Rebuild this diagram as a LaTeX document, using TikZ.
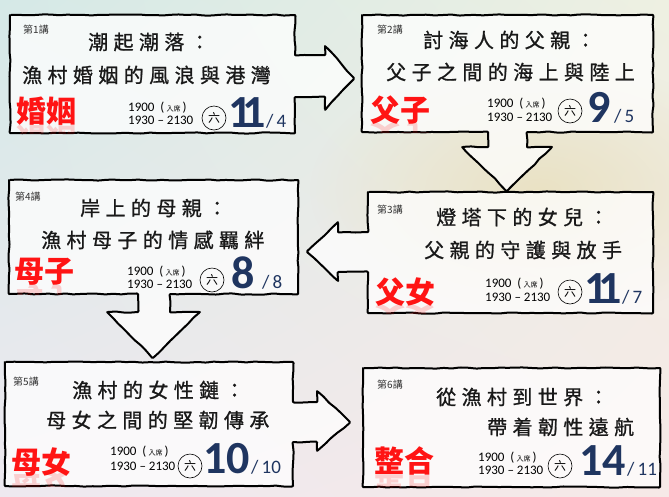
\documentclass[tikz,border=0pt]{standalone}
\usepackage{fontspec}
\usepackage{graphicx}
\usetikzlibrary{decorations.pathmorphing,fadings,shadings}
\newfontfamily\cjk{Noto Sans CJK TC}
\newfontfamily\cjkt[LetterSpace=27,FakeBold=1]{Noto Sans CJK TC}
\newfontfamily\numf{Carlito}
\definecolor{navy}{HTML}{1F3560}
\definecolor{tagred}{HTML}{FF1414}
\definecolor{bgul}{HTML}{D5E9E7}
\definecolor{bgur}{HTML}{EEF0E2}
\definecolor{bgll}{HTML}{EEE9F0}
\definecolor{bglr}{HTML}{F6E9E7}
\definecolor{bgcream}{HTML}{EAE2C4}
\tikzfading[name=blobfade, inner color=transparent!0, outer color=transparent!100]
\begin{document}
\begin{tikzpicture}[x=1pt,y=-1pt,
  panel/.style={draw=black, line width=2pt, fill=white, fill opacity=0.75, draw opacity=1,
    line join=round, decorate, decoration={random steps, segment length=8pt, amplitude=0.6pt}, rounded corners=1pt},
  lect/.style={font=\cjk\fontsize{10}{10}\selectfont, text=black!80, inner sep=0, anchor=west},
  ttl/.style={font=\cjkt\fontsize{20}{20}\selectfont, text=black!90, inner sep=0, anchor=west},
  tag/.style={font=\cjk\bfseries\fontsize{30}{30}\selectfont, text=tagred, inner sep=0, anchor=west},
  refl/.style={font=\cjk\bfseries\fontsize{30}{30}\selectfont, text=tagred, text opacity=0.18, inner sep=0, anchor=west},
  yr/.style={font=\numf\fontsize{13}{13}\selectfont, inner sep=0, anchor=west},
  day/.style={circle, draw, line width=0.6pt, minimum size=24pt, inner sep=0, font=\cjk\fontsize{12}{12}\selectfont},
  big/.style={font=\numf\bfseries\fontsize{46}{46}\selectfont, text=navy, inner sep=0, anchor=base west},
  small/.style={font=\numf\fontsize{19}{19}\selectfont, text=navy, inner sep=0, anchor=base west}
]
\pgfmathsetseed{7}
\useasboundingbox (0,0) rectangle (669,496);
% background
\shade[upper left=bgul, upper right=bgur, lower left=bgll, lower right=bglr] (0,0) rectangle (669,496);
\fill[bgcream, path fading=blobfade] (540,190) ellipse (230 and 130);
% panels with arrows
\path[panel] (10,15) -- (295,15) -- (295,55) -- (325,55) -- (325,46) -- (354,78) -- (325,110) -- (325,97) -- (295,97) -- (295,133) -- (10,133) -- cycle;
\path[panel] (362,15) -- (653,15) -- (653,132) -- (527,132) -- (527,147) -- (552,147) -- (507,191) -- (462,147) -- (488,147) -- (488,132) -- (362,132) -- cycle;
\path[panel] (368,192) -- (653,192) -- (653,313) -- (368,313) -- (368,272) -- (338,272) -- (338,281) -- (307,252) -- (338,222) -- (338,232) -- (368,232) -- cycle;
\path[panel] (9,180) -- (298,180) -- (298,294) -- (170,294) -- (170,312) -- (200,312) -- (153,358) -- (107,312) -- (138,312) -- (138,294) -- (9,294) -- cycle;
\path[panel] (5,362) -- (293,362) -- (293,402) -- (317,402) -- (317,391) -- (350,422) -- (317,451) -- (317,442) -- (293,442) -- (293,486) -- (5,486) -- cycle;
\path[panel] (363,368) -- (660,368) -- (660,487) -- (363,487) -- cycle;

% ---------- panel 1
\node[lect] (l1) at (23,30) {第1講};
\node[ttl] (t1a) at (88,42) {潮起潮落：};
\node[ttl] (t1b) at (22,75) {漁村婚姻的風浪與港灣};
\node[tag] (g1) at (16,111) {婚姻};
\begin{scope}\clip (10,125) rectangle (90,133);
\node[refl] (r1) at (16,139) {\scalebox{1}[-1]{婚姻}};\end{scope}
\node[yr] (a1) at (128,108) {1900\ \ (\,{\cjk\fontsize{7}{7}\selectfont 入席}\,)};
\node[yr] (b1) at (128,120) {1930 – 2130};
\node[day] (d1) at (214,118) {六};
\node[big] (n1) at (228,127) {1\kern-9.5pt1};
\node[small] (s1) at (266,127) {/\,4};

% ---------- panel 2
\node[lect] (l2) at (377,30) {第2講};
\node[ttl] (t2a) at (423,40) {討海人的父親：};
\node[ttl] (t2b) at (386,72) {父子之間的海上與陸上};
\node[tag] (g2) at (370,110) {父子};
\begin{scope}\clip (365,123) rectangle (440,132);
\node[refl] (r2) at (370,136) {\scalebox{1}[-1]{父子}};\end{scope}
\node[yr] (a2) at (487,104) {1900\ \ (\,{\cjk\fontsize{7}{7}\selectfont 入席}\,)};
\node[yr] (b2) at (487,117) {1930 – 2130};
\node[day] (d2) at (570,111) {六};
\node[big] (n2) at (587,122) {9};
\node[small] (s2) at (614,122) {/\,5};

% ---------- panel 3
\node[lect] (l3) at (377,210) {第3講};
\node[ttl] (t3a) at (436,217) {燈塔下的女兒：};
\node[ttl] (t3b) at (424,250) {父親的守護與放手};
\node[tag] (g3) at (375,292) {父女};
\begin{scope}\clip (370,305) rectangle (445,313);
\node[refl] (r3) at (375,318) {\scalebox{1}[-1]{父女}};\end{scope}
\node[yr] (a3) at (485,284) {1900\ \ (\,{\cjk\fontsize{7}{7}\selectfont 入席}\,)};
\node[yr] (b3) at (485,297) {1930 – 2130};
\node[day] (d3) at (570,292) {六};
\node[big] (n3) at (584,303) {1\kern-9.5pt1};
\node[small] (s3) at (622,303) {/\,7};

% ---------- panel 4
\node[lect] (l4) at (15,197) {第4講};
\node[ttl] (t4a) at (80,208) {岸上的母親：};
\node[ttl] (t4b) at (41,240) {漁村母子的情感羈絆};
\node[tag] (g4) at (14,272) {母子};
\begin{scope}\clip (10,285) rectangle (85,294);
\node[refl] (r4) at (14,298) {\scalebox{1}[-1]{母子}};\end{scope}
\node[yr] (a4) at (127,272) {1900\ \ (\,{\cjk\fontsize{7}{7}\selectfont 入席}\,)};
\node[yr] (b4) at (127,284) {1930 – 2130};
\node[day] (d4) at (212,280) {六};
\node[big] (n4) at (231,288) {8};
\node[small] (s4) at (262,288) {/\,8};

% ---------- panel 5
\node[lect] (l5) at (13,382) {第5講};
\node[ttl] (t5a) at (72,390) {漁村的女性鏈：};
\node[ttl] (t5b) at (46,420) {母女之間的堅韌傳承};
\node[tag] (g5) at (11,462) {母女};
\begin{scope}\clip (6,473) rectangle (80,486);
\node[refl] (r5) at (11,484) {\scalebox{1}[-1]{母女}};\end{scope}
\node[yr] (a5) at (110,452) {1900\ \ (\,{\cjk\fontsize{7}{7}\selectfont 入席}\,)};
\node[yr] (b5) at (110,466) {1930 – 2130};
\node[day] (d5) at (190,466) {六};
\node[big] (n5) at (203,473) {10};
\node[small] (s5) at (251,473) {/\,10};

% ---------- panel 6
\node[lect] (l6) at (377,385) {第6講};
\node[ttl] (t6a) at (436,397) {從漁村到世界：};
\node[ttl] (t6b) at (487,427) {帶着韌性遠航};
\node[tag] (g6) at (374,461) {整合};
\begin{scope}\clip (368,475) rectangle (445,487);
\node[refl] (r6) at (374,489) {\scalebox{1}[-1]{整合}};\end{scope}
\node[yr] (a6) at (478,458) {1900\ \ (\,{\cjk\fontsize{7}{7}\selectfont 入席}\,)};
\node[yr] (b6) at (478,470) {1930 – 2130};
\node[day] (d6) at (560,466) {六};
\node[big] (n6) at (579,475) {14};
\node[small] (s6) at (627,475) {/\,11};
\end{tikzpicture}
\end{document}
